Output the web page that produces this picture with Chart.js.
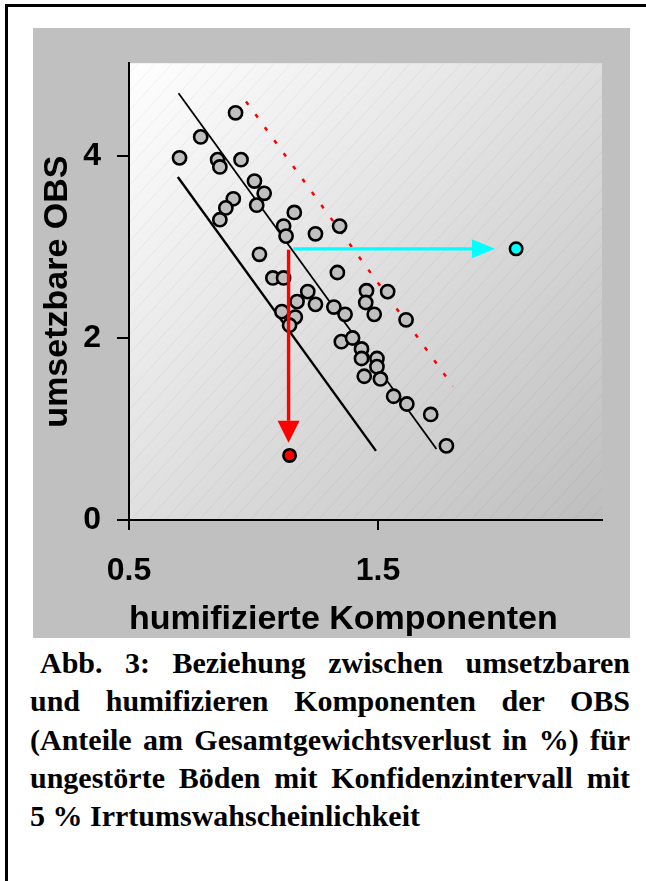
<!DOCTYPE html>
<html>
<head>
<meta charset="utf-8">
<script src="https://cdn.jsdelivr.net/npm/chart.js@4/dist/chart.umd.min.js"></script>
<style>
  html, body { margin: 0; padding: 0; background: #fff; overflow: hidden; }
  body { width: 646px; height: 881px; position: relative; }
  #frame { position: absolute; left: 5px; top: 4px; width: 700px; height: 900px;
           border-left: 3px solid #000; border-top: 3px solid #000; }
  #panel { position: absolute; left: 33px; top: 28px; width: 597px; height: 610px; background: #c0c0c0; }
  #caption { position: absolute; left: 30px; top: 644px; width: 600px;
             font: bold 30px "Liberation Serif", "Times New Roman", serif; line-height: 38.3px; color: #000; }
  #caption div { text-align: justify; text-align-last: justify; white-space: nowrap; }
  #caption div.last { text-align: left; text-align-last: left; }
</style>
</head>
<body>
<div id="frame"></div>
<div id="panel"><canvas id="chart" width="597" height="610"></canvas></div>
<div id="caption">
  <div style="padding-left:10px">Abb. 3: Beziehung zwischen umsetzbaren</div>
  <div>und humifizieren Komponenten der OBS</div>
  <div>(Anteile am Gesamtgewichtsverlust in %) für</div>
  <div>ungestörte Böden mit Konfidenzintervall mit</div>
  <div class="last">5 % Irrtumswahscheinlichkeit</div>
</div>
<script>
// Messpunkte: humifizierte (x) vs. umsetzbare (y) Komponenten
const humX = [0.928, 0.788, 0.703, 0.856, 0.865, 0.95, 1.004, 1.043, 1.013, 0.919, 0.889, 0.865,
  1.164, 1.121, 1.131, 1.249, 1.346, 1.024, 1.337, 1.078, 1.121, 1.218, 1.454, 1.539, 1.175,
  1.249, 1.323, 1.451, 1.114, 1.168, 1.368, 1.485, 1.613, 1.145, 1.353, 1.398, 1.434, 1.434,
  1.496, 1.496, 1.445, 1.51, 1.563, 1.616, 1.712, 1.775];
const umsY = [4.475, 4.21, 3.98, 3.96, 3.88, 3.96, 3.725, 3.59, 3.46, 3.53, 3.43, 3.30,
  3.38, 3.23, 3.12, 3.145, 3.23, 2.92, 2.72, 2.66, 2.66, 2.51, 2.52, 2.51, 2.40,
  2.37, 2.34, 2.39, 2.29, 2.23, 2.26, 2.26, 2.20, 2.14, 1.96, 2.0, 1.88, 1.775,
  1.775, 1.685, 1.58, 1.55, 1.36, 1.275, 1.16, 0.815];

// Sonderpunkte
const redPoint = { x: 1.145, y: 0.71 };
const cyanPoint = { x: 2.055, y: 2.98 };

// Konfidenzgrenzen und gestrichelte Linie (Endpunkte)
const upperLineX = [0.699, 1.735];
const upperLineY = [4.69, 0.78];
const lowerLineX = [0.696, 1.492];
const lowerLineY = [3.77, 0.76];
const dottedLineX = [0.97, 1.802];
const dottedLineY = [4.60, 1.47];

// Pfeile: Start und Spitze
const arrowFromX = [1.161, 1.141];
const arrowFromY = [2.98, 2.97];
const arrowToX = [1.97, 1.141];
const arrowToY = [2.98, 0.85];

// Achsen
const xTicks = [0.5, 1.5];
const xTickLabels = ['0.5', '1.5'];
const yTicks = [0, 2, 4];
const yTickLabels = ['0', '2', '4'];

const toPts = (xs, ys) => xs.map((x, i) => ({ x: x, y: ys[i] }));

Chart.defaults.font.family = '"Liberation Sans", Arial, sans-serif';
Chart.defaults.color = '#000';

const plotBackground = {
  id: 'plotBackground',
  beforeDraw(chart) {
    const { ctx, chartArea: a } = chart;
    ctx.save();
    const g = ctx.createLinearGradient(a.left, a.top, a.right, a.bottom);
    g.addColorStop(0, '#ffffff');
    g.addColorStop(1, '#bebebe');
    ctx.fillStyle = g;
    ctx.fillRect(a.left, a.top, a.right - a.left, a.bottom - a.top);
    // feine Schraffur
    ctx.beginPath();
    ctx.rect(a.left, a.top, a.right - a.left, a.bottom - a.top);
    ctx.clip();
    ctx.strokeStyle = 'rgba(0,0,0,0.05)';
    ctx.lineWidth = 1;
    const h = a.bottom - a.top;
    for (let x0 = a.left - h; x0 < a.right + 20; x0 += 17) {
      ctx.beginPath();
      ctx.moveTo(x0, a.bottom);
      ctx.lineTo(x0 + h / 1.1, a.top);
      ctx.stroke();
    }
    ctx.restore();
  }
};

const arrows = {
  id: 'arrows',
  afterDatasetsDraw(chart) {
    const { ctx, scales: { x, y } } = chart;
    const colors = ['#00ffff', '#ff0000'];
    const heads = [[23, 9.5], [22, 11]];
    ctx.save();
    arrowFromX.forEach((fx, i) => {
      const x1 = x.getPixelForValue(fx), y1 = y.getPixelForValue(arrowFromY[i]);
      const x2 = x.getPixelForValue(arrowToX[i]), y2 = y.getPixelForValue(arrowToY[i]);
      const ang = Math.atan2(y2 - y1, x2 - x1);
      const [len, hw] = heads[i];
      const bx = x2 - len * Math.cos(ang), by = y2 - len * Math.sin(ang);
      ctx.strokeStyle = colors[i];
      ctx.fillStyle = colors[i];
      ctx.lineWidth = 3.4;
      ctx.beginPath();
      ctx.moveTo(x1, y1);
      ctx.lineTo(bx, by);
      ctx.stroke();
      ctx.beginPath();
      ctx.moveTo(x2, y2);
      ctx.lineTo(bx - hw * Math.sin(ang), by + hw * Math.cos(ang));
      ctx.lineTo(bx + hw * Math.sin(ang), by - hw * Math.cos(ang));
      ctx.closePath();
      ctx.fill();
    });
    ctx.restore();
  }
};

const ctx = document.getElementById('chart').getContext('2d');
new Chart(ctx, {
  type: 'scatter',
  data: {
    datasets: [
      {
        data: [redPoint],
        backgroundColor: '#ff0000', borderColor: '#000', borderWidth: 2.6, pointRadius: 6.2
      },
      {
        data: [cyanPoint],
        backgroundColor: '#00ffff', borderColor: '#000', borderWidth: 2.6, pointRadius: 6.2
      },
      {
        data: toPts(humX, umsY),
        backgroundColor: '#c0c0c0', borderColor: '#000', borderWidth: 2.6, pointRadius: 6.6
      },
      {
        data: toPts(upperLineX, upperLineY),
        showLine: true, borderColor: '#000', borderWidth: 1.8, pointRadius: 0
      },
      {
        data: toPts(lowerLineX, lowerLineY),
        showLine: true, borderColor: '#000', borderWidth: 2.4, pointRadius: 0
      },
      {
        data: toPts(dottedLineX, dottedLineY),
        showLine: true, borderColor: '#ff0000', borderWidth: 2.5, borderDash: [4, 12], pointRadius: 0
      }
    ]
  },
  options: {
    responsive: false,
    animation: false,
    devicePixelRatio: 1,
    layout: { padding: { left: 0, top: 28, right: 28, bottom: 0 } },
    plugins: { legend: { display: false }, tooltip: { enabled: false } },
    scales: {
      x: {
        type: 'linear', position: 'bottom', min: 0.5, max: 2.4,
        afterBuildTicks: s => { s.ticks = xTicks.map(v => ({ value: v })); },
        afterFit: s => { s.height = 118; },
        ticks: {
          callback: (v, i) => xTickLabels[i],
          font: { size: 32, weight: 'bold', lineHeight: 1.2 },
          color: '#000', padding: 22, maxRotation: 0, autoSkip: false
        },
        grid: { drawOnChartArea: false, drawTicks: true, tickLength: 10, color: '#000', lineWidth: 2 },
        border: { display: true, color: '#000', width: 2 },
        title: {
          display: true, text: 'humifizierte Komponenten', align: 'start', color: '#000',
          font: { size: 34, weight: 'bold', lineHeight: 1 }, padding: { top: 0, bottom: 1 }
        }
      },
      y: {
        type: 'linear', min: 0, max: 5.02,
        afterBuildTicks: s => { s.ticks = yTicks.map(v => ({ value: v })); },
        afterFit: s => { s.width = 96; },
        ticks: {
          callback: (v, i) => yTickLabels[i],
          font: { size: 32, weight: 'bold' },
          color: '#000', padding: 16
        },
        grid: { drawOnChartArea: false, drawTicks: true, tickLength: 12, color: '#000', lineWidth: 2 },
        border: { display: true, color: '#000', width: 2 },
        title: {
          display: true, text: 'umsetzbare OBS', color: '#000',
          font: { size: 34, weight: 'bold', lineHeight: 1 }, padding: { top: 7.5, bottom: 0 }
        }
      }
    }
  },
  plugins: [plotBackground, arrows]
});
</script>
</body>
</html>
